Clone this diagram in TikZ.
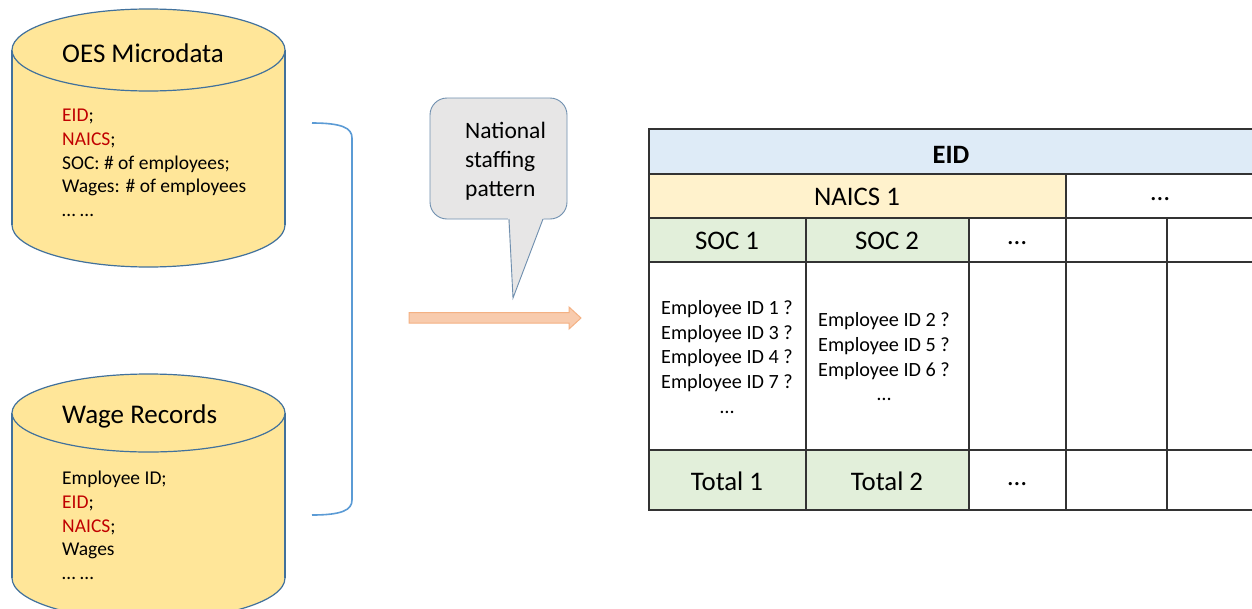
\documentclass[tikz,border=0pt]{standalone}
\usepackage{fontspec}
\setmainfont{Carlito}
\definecolor{cylfill}{HTML}{FFE699}
\definecolor{cylline}{HTML}{41719C}
\definecolor{redtxt}{HTML}{C00000}
\definecolor{brk}{HTML}{5B9BD5}
\definecolor{callfill}{HTML}{E7E6E6}
\definecolor{callline}{HTML}{6F8FAF}
\definecolor{arrfill}{HTML}{F8CBAD}
\definecolor{arrline}{HTML}{F4B183}
\definecolor{eidfill}{HTML}{DEEBF7}
\definecolor{naicsfill}{HTML}{FFF2CC}
\definecolor{socfill}{HTML}{E2EFDA}
\begin{document}
\begin{tikzpicture}[x=1pt,y=-1pt,
  cyl/.style={fill=cylfill,draw=cylline,line width=1.2pt},
  cyltitle/.style={anchor=base west,inner sep=0pt,font=\fontsize{27}{31}\selectfont},
  cyltext/.style={anchor=north west,inner sep=0pt,align=left,font=\fontsize{19.5}{23.7}\selectfont},
  grid/.style={draw=black!80,line width=1.3pt},
  hdr/.style={inner sep=0pt,font=\fontsize{26.8}{31}\selectfont},
  emp/.style={inner sep=0pt,align=center,font=\fontsize{20.2}{24.7}\selectfont}]
\clip (0,0) rectangle (1252,608);
\fill[white] (0,0) rectangle (1252,608);
% ---------- cylinder 1
\fill[cylfill] (12,50) rectangle (285,225);
\fill[cylfill] (148.5,225) ellipse [x radius=136.5, y radius=42];
\begin{scope}
  \clip (0,225) rectangle (300,300);
  \draw[cylline,line width=1.2pt] (148.5,225) ellipse [x radius=136.5, y radius=42];
\end{scope}
\draw[cylline,line width=1.2pt] (12,50) -- (12,225) (285,50) -- (285,225);
\draw[cyl] (148.5,50) ellipse [x radius=136.5, y radius=41];
\node[cyltitle] (t1) at (62,62) {OES Microdata};
\node[cyltext] (l1) at (62,109) {\textcolor{redtxt}{EID};\\\textcolor{redtxt}{NAICS};\\SOC: \# of employees;\\Wages: \# of employees\\… …};
% ---------- cylinder 2
\fill[cylfill] (12,413) rectangle (285,578);
\fill[cylfill] (148.5,578) ellipse [x radius=136.5, y radius=42];
\begin{scope}
  \clip (0,578) rectangle (300,700);
  \draw[cylline,line width=1.2pt] (148.5,578) ellipse [x radius=136.5, y radius=42];
\end{scope}
\draw[cylline,line width=1.2pt] (12,413) -- (12,578) (285,413) -- (285,578);
\draw[cyl] (148.5,413) ellipse [x radius=136.5, y radius=39];
\node[cyltitle] (t2) at (62,423) {Wage Records};
\node[cyltext] (l2) at (62,471) {Employee ID;\\\textcolor{redtxt}{EID};\\\textcolor{redtxt}{NAICS};\\Wages\\… …};
% ---------- bracket
\draw[brk,line width=1.6pt] (312,123) .. controls (342,123) and (352,128) .. (352,138)
  -- (352,500) .. controls (352,510) and (342,515) .. (312,515);
% ---------- callout
\draw[fill=callfill,draw=callline,line width=0.9pt,rounded corners=17]
  (430,98) rectangle (567,219);
\fill[callfill] (508,217) -- (513,298) -- (544,217) -- cycle;
\draw[callline,line width=0.9pt,line join=miter] (509,219) -- (513,298) -- (543,219);
\node[anchor=north west,inner sep=0pt,align=left,font=\fontsize{23.5}{29}\selectfont] (call) at (465,122) {National\\staffing\\pattern};
% ---------- arrow
\draw[fill=arrfill,draw=arrline,line width=1pt]
  (409,312.5) -- (569,312.5) -- (569,307) -- (581,318) -- (569,329) -- (569,323) -- (409,323) -- cycle;
% ---------- table fills
\fill[eidfill] (649,129) rectangle (1252,174);
\fill[naicsfill] (649,174) rectangle (1066,218);
\fill[socfill] (649,218) rectangle (969,262);
\fill[socfill] (649,450) rectangle (969,510);
% ---------- table grid
\draw[grid] (1260,129) -- (649,129) -- (649,510) -- (1260,510);
\foreach \yy in {174,218,262,450} \draw[grid] (649,\yy) -- (1260,\yy);
\draw[grid] (1066,174) -- (1066,510);
\foreach \xx in {806,969,1167} \draw[grid] (\xx,218) -- (\xx,510);
% ---------- table text
\node[hdr,font=\fontsize{26.5}{31}\selectfont\bfseries] (eid) at (951,155) {EID};
\node[hdr] (naics) at (857,197) {NAICS 1};
\node[hdr] (nd) at (1160,199) {…};
\node[hdr] (soc1) at (727,241) {SOC 1};
\node[hdr] (soc2) at (887,241) {SOC 2};
\node[hdr] (sd) at (1017,243) {…};
\node[emp] (e1) at (727,357) {Employee ID 1 ?\\Employee ID 3 ?\\Employee ID 4 ?\\Employee ID 7 ?\\…};
\node[emp] (e2) at (884,357) {Employee ID 2 ?\\Employee ID 5 ?\\Employee ID 6 ?\\…};
\node[hdr] (tot1) at (727,481) {Total 1};
\node[hdr] (tot2) at (887,481) {Total 2};
\node[hdr] (td) at (1017,484) {…};
\end{tikzpicture}
\end{document}
